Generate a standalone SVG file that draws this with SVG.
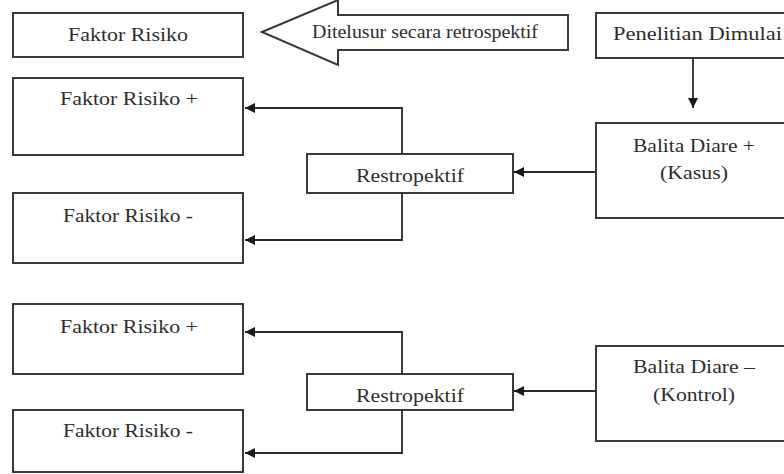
<svg xmlns="http://www.w3.org/2000/svg" width="784" height="474" viewBox="0 0 784 474">
<style>
.box{fill:#fff;stroke:#3a3a3a;stroke-width:2}
.t{font-family:"Liberation Serif","Times New Roman",serif;font-size:19px;fill:#2e2e2e}
.c{fill:none;stroke:#2a2a2a;stroke-width:1.8}
</style>
<defs>
<marker id="ah" markerUnits="userSpaceOnUse" markerWidth="11" markerHeight="10" refX="10" refY="5" orient="auto">
<path d="M0,0 L10,5 L0,10 z" fill="#1a1a1a"/>
</marker>
</defs>
<rect width="784" height="474" fill="#fff"/>
<g id="faktor-risiko">
<rect class="box" x="13" y="13" width="230" height="44"/>
<text class="t" x="68" y="41" textLength="120" lengthAdjust="spacingAndGlyphs">Faktor Risiko</text>
</g>
<g id="ditelusur">
<path class="box" d="M262,32 L338,0 L338,15 L568,15 L568,50 L338,50 L338,65 Z"/>
<text class="t" x="312" y="38" font-size="16" textLength="226" lengthAdjust="spacingAndGlyphs">Ditelusur secara retrospektif</text>
</g>
<g id="penelitian">
<rect class="box" x="596" y="13" width="200" height="45"/>
<text class="t" x="613" y="40" textLength="169" lengthAdjust="spacingAndGlyphs">Penelitian Dimulai</text>
</g>
<g id="faktor-plus-1">
<rect class="box" x="13" y="78" width="230" height="77"/>
<text class="t" x="60" y="105" textLength="138" lengthAdjust="spacingAndGlyphs">Faktor Risiko +</text>
</g>
<g id="faktor-minus-1">
<rect class="box" x="13" y="193" width="230" height="70"/>
<text class="t" x="63" y="222" textLength="130" lengthAdjust="spacingAndGlyphs">Faktor Risiko -</text>
</g>
<g id="restro-1">
<rect class="box" x="307" y="154" width="206" height="39"/>
<text class="t" x="356" y="182" textLength="108" lengthAdjust="spacingAndGlyphs">Restropektif</text>
</g>
<g id="balita-plus">
<rect class="box" x="596" y="123" width="200" height="95"/>
<text class="t" x="633" y="152" textLength="122" lengthAdjust="spacingAndGlyphs">Balita Diare +</text>
<text class="t" x="660" y="179" textLength="68" lengthAdjust="spacingAndGlyphs">(Kasus)</text>
</g>
<g id="faktor-plus-2">
<rect class="box" x="13" y="304" width="230" height="70"/>
<text class="t" x="60" y="333" textLength="138" lengthAdjust="spacingAndGlyphs">Faktor Risiko +</text>
</g>
<g id="faktor-minus-2">
<rect class="box" x="13" y="410" width="230" height="62"/>
<text class="t" x="63" y="437" textLength="130" lengthAdjust="spacingAndGlyphs">Faktor Risiko -</text>
</g>
<g id="restro-2">
<rect class="box" x="307" y="374" width="206" height="36"/>
<text class="t" x="356" y="402" textLength="108" lengthAdjust="spacingAndGlyphs">Restropektif</text>
</g>
<g id="balita-minus">
<rect class="box" x="596" y="346" width="200" height="95"/>
<text class="t" x="633" y="373" textLength="122" lengthAdjust="spacingAndGlyphs">Balita Diare –</text>
<text class="t" x="653" y="401" textLength="82" lengthAdjust="spacingAndGlyphs">(Kontrol)</text>
</g>
<g id="connectors">
<path class="c" d="M693,58 L693,108" marker-end="url(#ah)"/>
<path class="c" d="M596,172 L514,172" marker-end="url(#ah)"/>
<path class="c" d="M402,154 L402,108 L245,108" marker-end="url(#ah)"/>
<path class="c" d="M402,193 L402,240 L245,240" marker-end="url(#ah)"/>
<path class="c" d="M596,391 L514,391" marker-end="url(#ah)"/>
<path class="c" d="M402,374 L402,332 L245,332" marker-end="url(#ah)"/>
<path class="c" d="M402,410 L402,453 L245,453" marker-end="url(#ah)"/>
</g>
</svg>
